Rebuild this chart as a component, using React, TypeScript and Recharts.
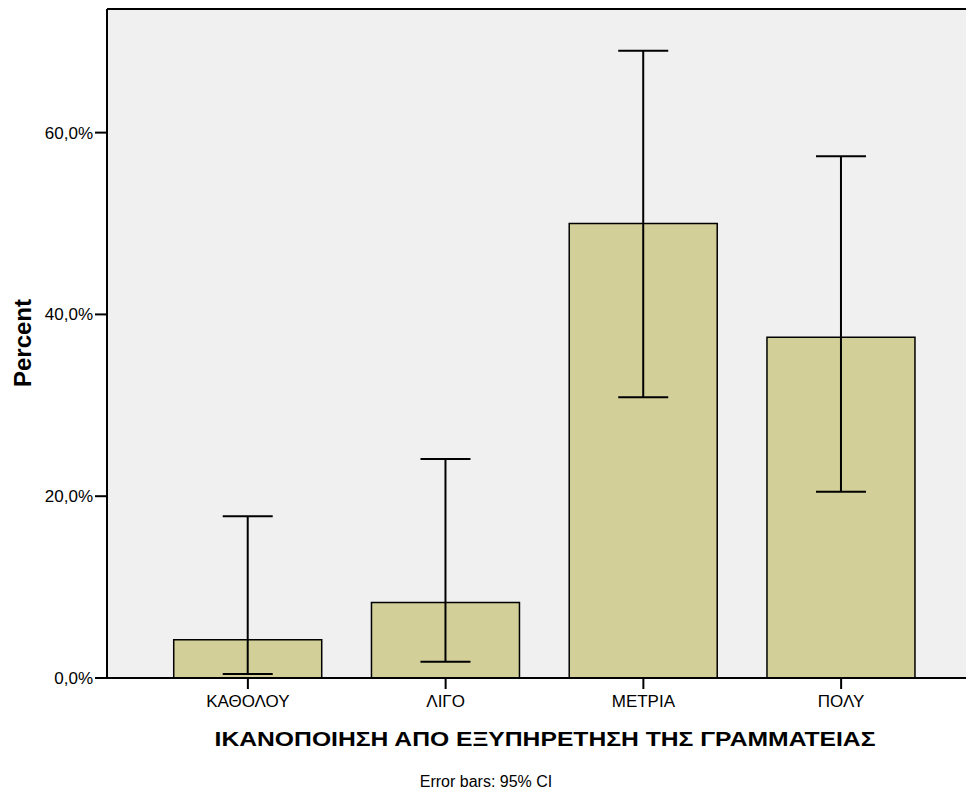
import React from "react";
import {
  BarChart,
  Bar,
  XAxis,
  YAxis,
  CartesianGrid,
  ErrorBar,
  ReferenceLine,
} from "recharts";

const categories = ["ΚΑΘΟΛΟΥ", "ΛΙΓΟ", "ΜΕΤΡΙΑ", "ΠΟΛΥ"];
const percentValues = [4.2, 8.3, 50.0, 37.5];
const ciLower = [0.45, 1.8, 30.9, 20.5];
const ciUpper = [17.8, 24.1, 69.0, 57.4];
const yTicks = [0, 20, 40, 60];
const yMax = 73.6;

const data = categories.map((name, i) => ({
  name,
  value: percentValues[i],
  err: [percentValues[i] - ciLower[i], ciUpper[i] - percentValues[i]],
}));

const FONT = "'Liberation Sans', Arial, sans-serif";

export default function App() {
  return (
    <div
      style={{
        position: "relative",
        width: 966,
        height: 781,
        fontFamily: FONT,
        overflow: "hidden",
      }}
    >
      <BarChart
        width={990}
        height={720}
        data={data}
        margin={{ top: 1, right: 0, left: 0, bottom: 20 }}
        barCategoryGap="12.5%"
      >
        <CartesianGrid fill="#f0f0f0" horizontal={false} vertical={false} stroke="none" />
        <XAxis
          dataKey="name"
          height={30}
          tickSize={11}
          tickMargin={6}
          padding={{ left: 42, right: 58 }}
          axisLine={{ stroke: "#000", strokeWidth: 2 }}
          tickLine={{ stroke: "#000", strokeWidth: 2 }}
          tick={{ fill: "#000", fontSize: 17, fontFamily: FONT }}
        />
        <YAxis
          width={99}
          domain={[0, yMax]}
          ticks={yTicks}
          tickSize={12}
          tickFormatter={(v: number) => v.toFixed(1).replace(".", ",") + "%"}
          axisLine={{ stroke: "#000", strokeWidth: 2 }}
          tickLine={{ stroke: "#000", strokeWidth: 2 }}
          tick={{ fill: "#000", fontSize: 17, fontFamily: FONT }}
          allowDataOverflow
        />
        <ReferenceLine y={yMax} stroke="#000" strokeWidth={2} ifOverflow="extendDomain" />
        <Bar
          dataKey="value"
          fill="#d3cf99"
          stroke="#000"
          strokeWidth={1.5}
          isAnimationActive={false}
        >
          <ErrorBar
            dataKey="err"
            width={25}
            stroke="#000"
            strokeWidth={2}
            direction="y"
            isAnimationActive={false}
          />
        </Bar>
      </BarChart>
      <div
        style={{
          position: "absolute",
          left: 15,
          top: 335,
          transform: "translate(-50%, -50%) rotate(-90deg)",
          fontWeight: "bold",
          fontSize: 24,
          whiteSpace: "nowrap",
          color: "#000",
        }}
      >
        Percent
      </div>
      <div
        style={{
          position: "absolute",
          left: 537,
          top: 731,
          transform: "translate(-50%, -50%) scaleX(1.175)",
          fontWeight: "bold",
          fontSize: 21,
          whiteSpace: "nowrap",
          color: "#000",
        }}
      >
        ΙΚΑΝΟΠΟΙΗΣΗ ΑΠΟ ΕΞΥΠΗΡΕΤΗΣΗ ΤΗΣ ΓΡΑΜΜΑΤΕΙΑΣ
      </div>
      <div
        style={{
          position: "absolute",
          left: 478,
          top: 774,
          transform: "translate(-50%, -50%)",
          fontSize: 16,
          lineHeight: "18px",
          whiteSpace: "nowrap",
          color: "#000",
        }}
      >
        Error bars: 95% CI
      </div>
    </div>
  );
}
